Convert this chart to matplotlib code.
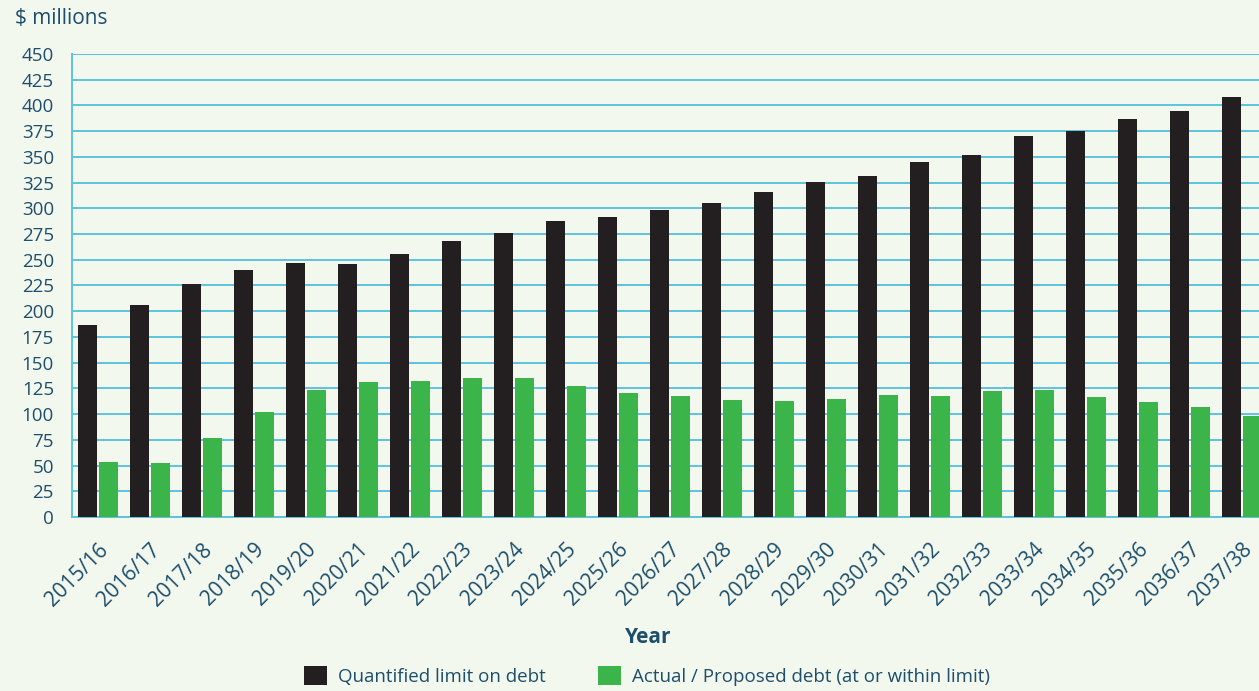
import numpy as np
import matplotlib.pyplot as plt
from matplotlib.patches import Patch

# Data
years = ["2015/16", "2016/17", "2017/18", "2018/19", "2019/20", "2020/21",
         "2021/22", "2022/23", "2023/24", "2024/25", "2025/26", "2026/27",
         "2027/28", "2028/29", "2029/30", "2030/31", "2031/32", "2032/33",
         "2033/34", "2034/35", "2035/36", "2036/37", "2037/38"]
limit_debt = [187, 206, 226, 240, 247, 246, 256, 268, 276, 288, 292, 298,
              305, 316, 326, 331, 345, 352, 370, 375, 387, 395, 408]
actual_debt = [53, 52, 77, 102, 123, 131, 132, 135, 135, 127, 121, 118,
               114, 113, 115, 119, 118, 122, 123, 117, 112, 107, 98]
y_ticks = list(range(0, 451, 25))

bg = "#f3f8ee"
grid_col = "#5bc3dc"
text_col = "#1d4e6b"
black = "#231f20"
green = "#3bb54a"

plt.rcParams['font.family'] = ['Open Sans', 'DejaVu Sans']

fig = plt.figure(figsize=(12.59, 6.91), dpi=100, facecolor=bg)
ax = fig.add_axes([0.0572, 0.2518, 0.9428, 0.6701], facecolor=bg)

x = np.arange(len(years))
w = 0.37
ax.bar(x - 0.2, limit_debt, width=w, color=black, zorder=3)
ax.bar(x + 0.2, actual_debt, width=w, color=green, zorder=3)

ax.set_xlim(-0.5, 22.33)
ax.set_ylim(0, 450)
ax.set_yticks(y_ticks)
ax.set_yticklabels([str(v) for v in y_ticks], fontsize=13.5, color=text_col)
ax.yaxis.grid(True, color=grid_col, linewidth=1.4, zorder=0)
ax.tick_params(axis='y', length=0, pad=13)

ax.set_xticks(x)
ax.set_xticklabels(years, rotation=45, ha='right', rotation_mode='anchor',
                   fontsize=15, color=text_col)
ax.tick_params(axis='x', length=0, pad=16)

for s in ["top", "right"]:
    ax.spines[s].set_visible(False)
for s in ["left", "bottom"]:
    ax.spines[s].set_color(grid_col)
    ax.spines[s].set_linewidth(1.4)

fig.text(0.012, 0.973, "$ millions", fontsize=15, color=text_col, va='center')
fig.text(0.515, 0.077, "Year", fontsize=15, fontweight='bold', color=text_col,
         ha='center', va='center')

handles = [Patch(facecolor=black, label="Quantified limit on debt"),
           Patch(facecolor=green, label="Actual / Proposed debt (at or within limit)")]
leg = fig.legend(handles=handles, loc='center', bbox_to_anchor=(0.514, 0.022),
                 ncol=2, frameon=False, fontsize=13.5, handlelength=1.2,
                 handleheight=1.2, columnspacing=2.8, handletextpad=0.6)
for t in leg.get_texts():
    t.set_color(text_col)

fig.savefig("out.png", dpi=100, facecolor=bg)
